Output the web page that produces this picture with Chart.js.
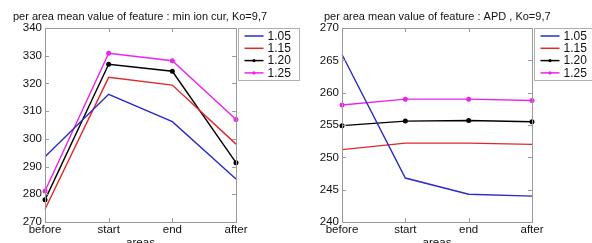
<!DOCTYPE html>
<html lang="en">
<head>
<meta charset="UTF-8">
<title>per area mean value of feature</title>
<style>
    body { margin: 0; background: #fff; }
    .wrap { position: relative; width: 592px; height: 243px; overflow: hidden; }
    .box { position: absolute; top: 0; height: 260px; }
    #left { left: 0; width: 300px; }
    #right { left: 296px; width: 296px; }
</style>
</head>
<body>
<div class="wrap">
    <div class="box" id="left"><canvas id="ionChart"></canvas></div>
    <div class="box" id="right"><canvas id="apdChart"></canvas></div>
</div>
<script src="https://cdn.jsdelivr.net/npm/chart.js"></script>
<script>
// categories and series
const areas = ['before', 'start', 'end', 'after'];
const koLabels = ['1.05', '1.15', '1.20', '1.25'];
const lineColors = ['#2b2bc8', '#e02828', '#000000', '#ee22ee'];

// min ion cur
const ion105 = [293.5, 316.1, 306.2, 285.5];
const ion115 = [274.6, 322.2, 319.4, 298.1];
const ion120 = [278.0, 326.9, 324.4, 291.4];
const ion125 = [281.2, 330.9, 328.2, 307.0];
const ionTicks = [270, 280, 290, 300, 310, 320, 330, 340];

// APD
const apd105 = [265.9, 246.8, 244.3, 244.0];
const apd115 = [251.2, 252.2, 252.2, 252.0];
const apd120 = [254.9, 255.6, 255.7, 255.5];
const apd125 = [258.1, 259.0, 259.0, 258.8];
const apdTicks = [240, 245, 250, 255, 260, 265, 270];

const hasMarker = [false, false, true, true];
const FONT = 'Arial, "Liberation Sans", sans-serif';

// title, frame, inward tick marks and the boxed legend
const matlabLook = {
    id: 'matlabLook',
    afterDraw(chart, args, opts) {
        const ctx = chart.ctx;
        const a = chart.chartArea;
        const xs = chart.scales.x, ys = chart.scales.y;
        ctx.save();

        // title
        ctx.fillStyle = '#111';
        ctx.font = '11px ' + FONT;
        ctx.textBaseline = 'middle';
        ctx.textAlign = 'left';
        ctx.fillText(opts.title, opts.titleX, 17);

        ctx.strokeStyle = '#9a9a9a';
        ctx.lineWidth = 1;
        ctx.strokeRect(a.left + 0.5, a.top + 0.5, a.right - a.left, a.bottom - a.top);
        ctx.beginPath();
        ys.ticks.forEach(t => {
            const y = Math.round(ys.getPixelForValue(t.value)) + 0.5;
            ctx.moveTo(a.left, y); ctx.lineTo(a.left + 4, y);
            ctx.moveTo(a.right, y); ctx.lineTo(a.right - 4, y);
        });
        xs.ticks.forEach((t, i) => {
            const x = Math.round(xs.getPixelForTick(i)) + 0.5;
            ctx.moveTo(x, a.bottom); ctx.lineTo(x, a.bottom - 4);
            ctx.moveTo(x, a.top); ctx.lineTo(x, a.top + 4);
        });
        ctx.stroke();

        // legend box
        const bx = a.right + 2.5, by = a.top + 0.5;
        ctx.fillStyle = '#fff';
        ctx.fillRect(bx, by, 61, 52);
        ctx.strokeStyle = '#b0b0b0';
        ctx.strokeRect(bx, by, 61, 52);
        ctx.font = '12px ' + FONT;
        chart.data.datasets.forEach((ds, i) => {
            const y = by + 7.5 + i * 12.3;
            ctx.strokeStyle = ds.borderColor;
            ctx.lineWidth = 1.5;
            ctx.beginPath();
            ctx.moveTo(bx + 6, y); ctx.lineTo(bx + 25, y);
            ctx.stroke();
            if (hasMarker[i]) {
                ctx.fillStyle = ds.borderColor;
                ctx.beginPath();
                ctx.arc(bx + 15.5, y, 1.6, 0, Math.PI * 2);
                ctx.fill();
            }
            ctx.fillStyle = '#111';
            ctx.fillText(ds.label, bx + 29, y + 0.5);
        });
        ctx.restore();
    }
};

function makeChart(canvasId, title, titleX, series, tickValues, yWidth, padRight) {
    const ctx = document.getElementById(canvasId).getContext('2d');
    return new Chart(ctx, {
        type: 'line',
        data: {
            labels: areas,
            datasets: series.map((values, i) => ({
                label: koLabels[i],
                data: values,
                borderColor: lineColors[i],
                backgroundColor: lineColors[i],
                borderWidth: 1.4,
                pointRadius: hasMarker[i] ? 1.8 : 0,
                pointStyle: 'circle',
                tension: 0
            }))
        },
        options: {
            responsive: true,
            maintainAspectRatio: false,
            animation: false,
            layout: { padding: { left: 0, right: padRight, top: 28, bottom: 0 } },
            plugins: {
                legend: { display: false },
                tooltip: { enabled: false },
                title: { display: false },
                matlabLook: { title: title, titleX: titleX }
            },
            scales: {
                x: {
                    offset: false,
                    grid: { display: false, drawTicks: false },
                    border: { display: false },
                    ticks: {
                        color: '#111',
                        padding: 1,
                        maxRotation: 0,
                        font: { size: 11.5, family: FONT }
                    },
                    title: {
                        display: true,
                        text: 'areas',
                        color: '#111',
                        padding: { top: 0, bottom: 10 },
                        font: { size: 11.5, family: FONT }
                    },
                    afterFit(scale) { scale.height = 38; }
                },
                y: {
                    min: tickValues[0],
                    max: tickValues[tickValues.length - 1],
                    grid: { display: false, drawTicks: false },
                    border: { display: false },
                    afterBuildTicks(scale) {
                        scale.ticks = tickValues.map(v => ({ value: v }));
                    },
                    ticks: {
                        color: '#111',
                        padding: 3,
                        font: { size: 11.5, family: FONT }
                    },
                    afterFit(scale) { scale.width = yWidth; }
                }
            }
        },
        plugins: [matlabLook]
    });
}

makeChart('ionChart', 'per area mean value of feature : min ion cur, Ko=9,7', 13,
    [ion105, ion115, ion120, ion125], ionTicks, 45, 64);
makeChart('apdChart', 'per area mean value of feature : APD , Ko=9,7', 28,
    [apd105, apd115, apd120, apd125], apdTicks, 46, 60);
</script>
</body>
</html>
